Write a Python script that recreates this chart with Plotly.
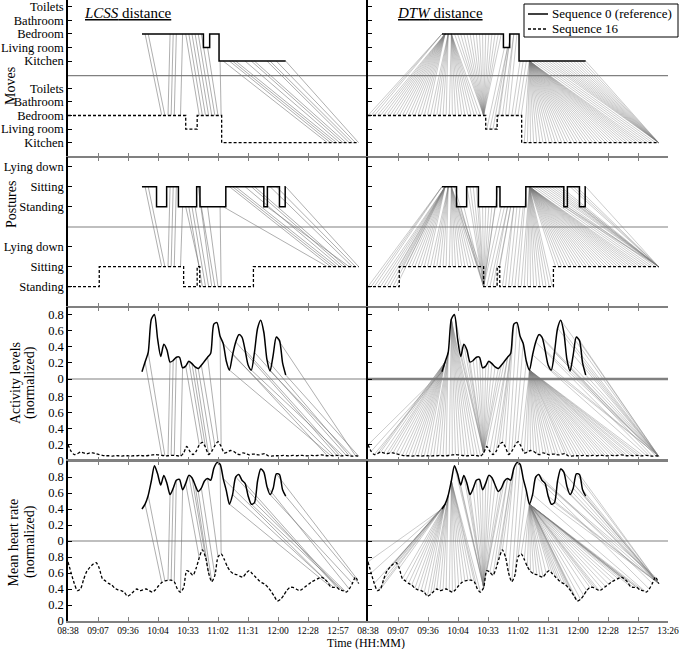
import plotly.graph_objects as go
from plotly.subplots import make_subplots

FONT = "Liberation Serif"

# ---------------- time axis (minutes after 08:38) ----------------
TICK_MIN = [0, 28.8, 57.6, 86.4, 115.2, 144, 172.8, 201.6, 230.4, 259.2, 288]
TICK_TEXT = ["08:38", "09:07", "09:36", "10:04", "10:33", "11:02",
             "11:31", "12:00", "12:28", "12:57", "13:26"]

T0_START = 71      # Sequence 0 starts 09:49
T16_START = 0      # Sequence 16 starts 08:38
STEP = 3           # sampling step, minutes

SERIES_NAMES = ["Sequence 0 (reference)", "Sequence 16"]

# ---------------- Mean heart rate (normalized) ----------------
hr0 = [0.40, 0.46, 0.57, 0.75, 0.94, 0.84, 0.70, 0.82, 0.72, 0.58,
       0.66, 0.76, 0.77, 0.64, 0.72, 0.82, 0.79, 0.70, 0.62, 0.66,
       0.75, 0.78, 0.76, 0.91, 0.98, 0.96, 0.78, 0.63, 0.46, 0.58,
       0.80, 0.83, 0.76, 0.72, 0.56, 0.46, 0.48, 0.75, 0.90, 0.86,
       0.68, 0.58, 0.66, 0.84, 0.83, 0.64, 0.56]
hr16 = [0.74, 0.60, 0.47, 0.38, 0.40, 0.52, 0.62, 0.67, 0.71, 0.73,
        0.66, 0.53, 0.50, 0.47, 0.45, 0.41, 0.39, 0.38, 0.36, 0.31,
        0.33, 0.37, 0.40, 0.38, 0.39, 0.40, 0.38, 0.36, 0.39, 0.44,
        0.48, 0.50, 0.51, 0.51, 0.49, 0.40, 0.36, 0.42, 0.63, 0.61,
        0.57, 0.66, 0.79, 0.89, 0.80, 0.60, 0.49, 0.57, 0.80, 0.84,
        0.77, 0.68, 0.62, 0.59, 0.58, 0.56, 0.55, 0.60, 0.63, 0.59,
        0.55, 0.51, 0.48, 0.46, 0.42, 0.37, 0.31, 0.25, 0.27, 0.32,
        0.38, 0.42, 0.42, 0.40, 0.38, 0.40, 0.43, 0.46, 0.49, 0.51,
        0.53, 0.55, 0.53, 0.49, 0.43, 0.42, 0.42, 0.39, 0.38, 0.36,
        0.40, 0.47, 0.55, 0.47]

# ---------------- Activity levels (normalized) ----------------
act0 = [0.09, 0.21, 0.33, 0.74, 0.80, 0.50, 0.28, 0.43, 0.36, 0.21,
        0.23, 0.27, 0.27, 0.14, 0.16, 0.22, 0.19, 0.15, 0.13, 0.17,
        0.22, 0.27, 0.32, 0.68, 0.70, 0.53, 0.44, 0.22, 0.11, 0.30,
        0.46, 0.55, 0.52, 0.36, 0.17, 0.11, 0.33, 0.63, 0.73, 0.58,
        0.24, 0.10, 0.30, 0.52, 0.48, 0.20, 0.05]
act16 = [0.20, 0.12, 0.08, 0.09, 0.11, 0.10, 0.09, 0.10, 0.10, 0.09,
         0.08, 0.07, 0.065, 0.065, 0.06, 0.065, 0.065, 0.06, 0.065, 0.065,
         0.06, 0.065, 0.065, 0.07, 0.065, 0.065, 0.07, 0.075, 0.08, 0.075,
         0.07, 0.065, 0.065, 0.07, 0.07, 0.065, 0.06, 0.10, 0.18, 0.12,
         0.08, 0.12, 0.20, 0.23, 0.17, 0.08, 0.12, 0.19, 0.24, 0.18,
         0.10, 0.11, 0.13, 0.12, 0.09, 0.08, 0.10, 0.09, 0.075, 0.085,
         0.085, 0.075, 0.085, 0.09, 0.065, 0.06, 0.065, 0.065, 0.065, 0.07,
         0.065, 0.065, 0.07, 0.065, 0.07, 0.07, 0.065, 0.065, 0.07, 0.065,
         0.07, 0.075, 0.07, 0.065, 0.07, 0.065, 0.07, 0.065, 0.065, 0.07,
         0.065, 0.06, 0.065, 0.06]

# ---------------- Moves (state changes) ----------------
MOVE_LEVELS = ["Kitchen", "Living room", "Bedroom", "Bathroom", "Toilets"]
moves0_t = [71, 130, 136, 145]
moves0_s = ["Bedroom", "Living room", "Bedroom", "Kitchen"]
moves16_t = [0, 113, 124, 147.5]
moves16_s = ["Bedroom", "Living room", "Bedroom", "Kitchen"]

# ---------------- Postures (state changes) ----------------
POSTURE_LEVELS = ["Standing", "Sitting", "Lying down"]
post0_t = [71, 85, 94.7, 106, 123.5, 126.7, 151.5, 188, 191.4, 203, 208.5]
post0_s = ["Sitting", "Standing", "Sitting", "Standing", "Sitting", "Standing",
           "Sitting", "Standing", "Sitting", "Standing", "Sitting"]
post16_t = [0, 30, 111, 124, 126.5, 178]
post16_s = ["Standing", "Sitting", "Standing", "Sitting", "Standing", "Sitting"]

ACT_TICKS = ["0", "0.2", "0.4", "0.6", "0.8"]

# ---------------- alignments (index in seq 0, index in seq 16) ----------------
LCSS_PAIRS = [(1, 30), (2, 31), (9, 32), (10, 33), (11, 34), (13, 36),
              (14, 42), (15, 43), (16, 44), (17, 45), (18, 46), (19, 47),
              (21, 48), (25, 49),
              (26, 83), (28, 84), (29, 85), (30, 86), (33, 87), (35, 88),
              (36, 89), (40, 90), (41, 91), (43, 92), (46, 93)]

DTW_PAIRS = [
    (0, 0), (0, 1), (0, 2),
    (1, 3), (1, 4), (1, 5), (1, 6), (1, 7), (1, 8), (1, 9), (1, 10), (1, 11),
    (1, 12), (1, 13), (1, 14), (1, 15), (1, 16), (1, 17), (1, 18), (1, 19),
    (2, 20), (2, 21), (2, 22), (2, 23), (2, 24), (2, 25),
    (3, 26), (3, 27), (3, 28), (3, 29), (3, 30), (3, 31), (3, 32), (3, 33),
    (3, 34), (3, 35), (3, 36),
    (4, 37), (5, 37), (6, 37), (7, 37), (8, 37), (9, 37), (10, 37), (11, 37),
    (12, 37), (13, 37), (14, 37), (15, 37), (16, 37), (17, 37), (18, 37), (19, 37),
    (20, 38), (21, 39), (21, 40), (22, 41), (22, 42), (23, 43), (23, 44),
    (24, 45), (25, 46), (26, 47), (27, 48),
    (28, 49), (28, 50), (28, 51), (28, 52), (28, 53), (28, 54), (28, 55), (28, 56),
    (28, 57), (28, 58), (28, 59), (28, 60), (28, 61), (28, 62), (28, 63), (28, 64),
    (28, 65), (28, 66), (28, 67), (28, 68), (28, 69), (28, 70), (28, 71), (28, 72),
    (28, 73), (28, 74), (28, 75), (28, 76), (28, 77), (28, 78), (28, 79), (28, 80),
    (28, 81), (28, 82), (28, 83), (28, 84), (28, 85), (28, 86), (28, 87), (28, 88),
    (29, 89), (30, 90), (31, 91), (32, 92),
    (33, 93), (34, 93), (35, 93), (36, 93), (37, 93), (38, 93), (39, 93), (40, 93),
    (41, 93), (42, 93), (43, 93), (44, 93), (45, 93), (46, 93),
]

# ---------------- derived ----------------
t0 = [T0_START + STEP * k for k in range(len(hr0))]
t16 = [T16_START + STEP * k for k in range(len(hr16))]


def step_at(ts, ss, levels, t):
    v = ss[0]
    for tc, s in zip(ts, ss):
        if tc <= t:
            v = s
    return levels.index(v)


def step_xy(ts, ss, levels, t_end, off):
    x = list(ts) + [t_end]
    y = [levels.index(s) + off for s in ss] + [levels.index(ss[-1]) + off]
    return x, y


ROWS = [
    dict(kind="step", ts0=moves0_t, ss0=moves0_s, ts16=moves16_t, ss16=moves16_s,
         levels=MOVE_LEVELS, off=6, rng=[-1.05, 10.49], mid=4.93,
         tickvals=[0, 1, 2, 3, 4, 6, 7, 8, 9, 10], ticktext=MOVE_LEVELS * 2),
    dict(kind="step", ts0=post0_t, ss0=post0_s, ts16=post16_t, ss16=post16_s,
         levels=POSTURE_LEVELS, off=4, rng=[-1.015, 6.485], mid=2.985,
         tickvals=[0, 1, 2, 4, 5, 6], ticktext=POSTURE_LEVELS * 2),
    dict(kind="num", v0=act0, v16=act16, off=1.017, rng=[0, 1.91], mid=1.017,
         tickvals=[0, 0.2, 0.4, 0.6, 0.8] + [1.017 + v for v in (0, 0.2, 0.4, 0.6, 0.8)],
         ticktext=ACT_TICKS * 2),
    dict(kind="num", v0=hr0, v16=hr16, off=1.0, rng=[0, 2.0], mid=1.0,
         tickvals=[0, 0.2, 0.4, 0.6, 0.8] + [1.0 + v for v in (0, 0.2, 0.4, 0.6, 0.8)],
         ticktext=ACT_TICKS * 2),
]

fig = make_subplots(rows=4, cols=2, horizontal_spacing=0, vertical_spacing=0,
                    row_heights=[157, 150, 154, 160])

for r, cfg in enumerate(ROWS, start=1):
    off = cfg["off"]
    if cfg["kind"] == "step":
        def up(i, c=cfg):
            return step_at(c["ts0"], c["ss0"], c["levels"], t0[i]) + c["off"]

        def lo(j, c=cfg):
            return step_at(c["ts16"], c["ss16"], c["levels"], t16[j])
        ux, uy = step_xy(cfg["ts0"], cfg["ss0"], cfg["levels"], t0[-1], off)
        lx, ly = step_xy(cfg["ts16"], cfg["ss16"], cfg["levels"], t16[-1], 0)
        shape = "hv"
    else:
        def up(i, c=cfg):
            return c["v0"][i] + c["off"]

        def lo(j, c=cfg):
            return c["v16"][j]
        ux, uy = t0, [v + off for v in cfg["v0"]]
        lx, ly = t16, list(cfg["v16"])
        shape = "spline"

    for c, (pairs, col, wid) in enumerate(
            [(LCSS_PAIRS, "rgba(120,120,120,0.75)", 0.8),
             (DTW_PAIRS, "rgba(120,120,120,0.55)", 0.7)], start=1):
        xs, ys = [], []
        for i, j in pairs:
            xs += [t0[i], t16[j], None]
            ys += [up(i), lo(j), None]
        fig.add_trace(go.Scatter(x=xs, y=ys, mode="lines",
                                 line=dict(color=col, width=wid),
                                 hoverinfo="skip", showlegend=False), row=r, col=c)
        lkw = dict(shape=shape)
        if shape == "spline":
            lkw["smoothing"] = 0.7
        fig.add_trace(go.Scatter(x=lx, y=ly, mode="lines", name=SERIES_NAMES[1],
                                 line=dict(color="black", width=1.3, dash="3px,2px", **lkw),
                                 showlegend=False), row=r, col=c)
        fig.add_trace(go.Scatter(x=ux, y=uy, mode="lines", name=SERIES_NAMES[0],
                                 line=dict(color="black", width=1.5, **lkw),
                                 showlegend=False), row=r, col=c)

        n = (r - 1) * 2 + c
        xr = "x" if n == 1 else f"x{n}"
        yr = "y" if n == 1 else f"y{n}"
        fig.add_shape(type="line", xref=f"{xr} domain", yref=yr, x0=0, x1=1,
                      y0=cfg["mid"], y1=cfg["mid"], layer="below",
                      line=dict(color="#808080",
                                width=2.5 if (r == 3 and c == 2) else 1.2))

        if r == 4:
            tt = TICK_TEXT if c == 2 else TICK_TEXT[:-1] + [""]
            show_x = True
        else:
            tt = TICK_TEXT
            show_x = False
        fig.update_xaxes(row=r, col=c, range=[0, 288], tickvals=TICK_MIN, ticktext=tt,
                         showticklabels=show_x, ticks="inside", ticklen=4,
                         tickcolor="#808080", showline=True, linecolor="#808080",
                         linewidth=1.5 if r == 4 else 1.2,
                         mirror=("ticks" if r > 1 else False),
                         showgrid=False, zeroline=False,
                         tickfont=dict(family=FONT, size=9.5, color="black"))
        fig.update_yaxes(row=r, col=c, range=cfg["rng"], tickvals=cfg["tickvals"],
                         ticktext=cfg["ticktext"], showticklabels=(c == 1),
                         ticks="inside", ticklen=4, tickcolor="black",
                         showline=True, linecolor="black", linewidth=1.5,
                         mirror=False, showgrid=False, zeroline=False,
                         tickfont=dict(family=FONT, size=12.5, color="black"))

PLOT_H = 621.0
PLOT_W = 600.0


def px(xp):
    return (xp - 68) / PLOT_W


def py(yp):
    return 1 - yp / PLOT_H


ann = [
    dict(text="<u><i>LCSS</i> distance</u>", x=px(82), y=py(13), xanchor="left", size=15),
    dict(text="<u><i>DTW</i> distance</u>", x=px(395), y=py(13), xanchor="left", size=15),
    dict(text="Moves", x=px(11), y=py(86), angle=-90, size=14),
    dict(text="Postures", x=px(11), y=py(205), angle=-90, size=14),
    dict(text="Activity levels", x=px(15), y=py(383), angle=-90, size=14),
    dict(text="(normalized)", x=px(30), y=py(383), angle=-90, size=14),
    dict(text="Mean heart rate", x=px(12.5), y=py(543), angle=-90, size=14),
    dict(text="(normalized)", x=px(30), y=py(542), angle=-90, size=14),
    dict(text="Time (HH:MM)", x=px(366), y=py(643), size=12),
    # legend texts
    dict(text=SERIES_NAMES[0], x=px(550), y=py(14), xanchor="left", size=13),
    dict(text=SERIES_NAMES[1], x=px(550), y=py(29), xanchor="left", size=13),
]
for a in ann:
    fig.add_annotation(text=a["text"], x=a["x"], y=a["y"], xref="paper", yref="paper",
                       xanchor=a.get("xanchor", "center"), yanchor="middle",
                       textangle=a.get("angle", 0), showarrow=False,
                       font=dict(family=FONT, size=a["size"], color="black"))

# legend box and line samples
fig.add_shape(type="rect", xref="paper", yref="paper", x0=px(524), x1=px(678),
              y0=py(37), y1=py(4), fillcolor="white", line=dict(color="black", width=1))
fig.add_shape(type="line", xref="paper", yref="paper", x0=px(528), x1=px(548),
              y0=py(14), y1=py(14), line=dict(color="black", width=1.5))
fig.add_shape(type="line", xref="paper", yref="paper", x0=px(528), x1=px(548),
              y0=py(29), y1=py(29), line=dict(color="black", width=1.3, dash="3px,2px"))

fig.update_layout(
    width=681, height=649,
    margin=dict(l=68, r=13, t=0, b=28, autoexpand=False),
    paper_bgcolor="white", plot_bgcolor="white",
    font=dict(family=FONT, color="black"),
    showlegend=False,
    hovermode=False,
)

fig.write_html("out.html",
               config={"displayModeBar": False},
               post_script="document.body.style.margin='0px';"
                           "document.body.style.overflow='hidden';")
